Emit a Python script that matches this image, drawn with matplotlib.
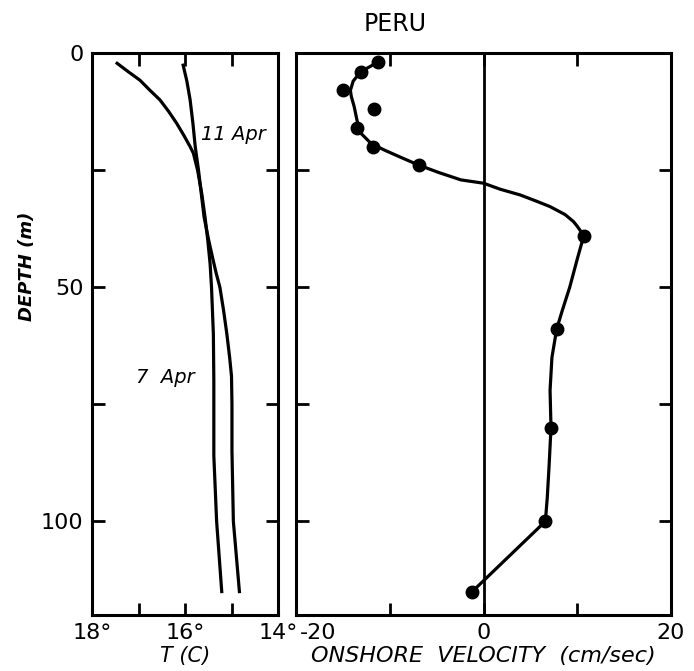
import matplotlib.pyplot as plt
import matplotlib.transforms as mtransforms

# temperature profiles (left panel)
depth_7apr = [2.2, 4, 5.8, 8, 10, 12.5, 15, 17.5, 20, 21.4, 25, 30, 35, 40, 45, 50,
              55, 60, 70, 80, 86, 100, 115]
temp_7apr = [17.46, 17.22, 16.97, 16.75, 16.54, 16.35, 16.18, 16.03, 15.89, 15.82,
             15.73, 15.64, 15.57, 15.51, 15.46, 15.43, 15.41, 15.39, 15.38, 15.38,
             15.38, 15.32, 15.21]
depth_11apr = [2.6, 6, 10, 15, 20, 25, 30, 35, 40, 44, 47, 50, 55, 60, 65, 69, 75,
               85, 100, 115]
temp_11apr = [16.04, 15.96, 15.89, 15.83, 15.78, 15.71, 15.65, 15.59, 15.49, 15.40,
              15.33, 15.25, 15.17, 15.10, 15.04, 15.00, 14.99, 14.99, 14.96, 14.83]

# onshore velocity observations (right panel)
vel_depth = [2, 4, 8, 12, 16, 20, 24, 39, 59, 80, 100, 115]
vel_obs = [-11.3, -13.1, -15.0, -11.7, -13.5, -11.8, -6.9, 10.7, 7.8, 7.2, 6.6, -1.2]

# hand-drawn smooth curve through the observations
curve_depth = [2, 4, 6, 8, 9.3, 11.4, 14.3, 17.1, 19.3, 20.7, 22.3, 23.9, 25.5, 27.1,
               27.8, 29.1, 30.3, 31.6, 32.8, 34.5, 36, 37, 39, 44, 50, 55, 59, 65,
               72, 80, 88, 95, 100, 115]
curve_vel = [-11.3, -13.1, -13.9, -14.2, -14.1, -13.8, -13.5, -13.1, -12.0, -10.6,
             -8.8, -6.95, -4.8, -2.4, 0.0, 1.8, 3.9, 5.6, 7.1, 8.7, 9.6, 10.0, 10.7,
             10.0, 9.2, 8.4, 7.8, 7.3, 7.1, 7.2, 7.0, 6.8, 6.6, -1.2]

LW = 2.3

fig = plt.figure(figsize=(6.94, 6.71), dpi=100)
ax1 = fig.add_axes([92 / 694, 1 - 615 / 671, 186 / 694, 562 / 671])
ax2 = fig.add_axes([296 / 694, 1 - 615 / 671, 375 / 694, 562 / 671])

for ax in (ax1, ax2):
    for s in ax.spines.values():
        s.set_linewidth(2.2)
    ax.set_ylim(120, 0)
    ax.tick_params(direction='in', length=9, width=2, top=True, right=True,
                   labelsize=16, pad=6)

# left panel
ax1.plot(temp_7apr, depth_7apr, 'k-', lw=LW)
ax1.plot(temp_11apr, depth_11apr, 'k-', lw=LW)
ax1.set_xlim(18, 14)
ax1.set_xticks([18, 17, 16, 15, 14])
ax1.set_xticklabels(['18°', '', '16°', '', '14°'])
ax1.set_yticks([0, 25, 50, 75, 100])
ax1.set_yticklabels(['0', '', '50', '', '100'])
ax1.set_xlabel('T (C)', fontsize=15, style='italic', labelpad=2)
ax1.set_ylabel('DEPTH (m)', fontsize=13, style='italic', fontweight='bold')
ax1.yaxis.set_label_coords(-0.30, 0.62)
ax1.text(14.97, 17.5, '11 Apr', fontsize=14, style='italic', ha='center', va='center')
ax1.text(16.42, 69.3, '7  Apr', fontsize=14, style='italic', ha='center', va='center')

# right panel
ax2.axvline(0, color='k', lw=2)
ax2.plot(curve_vel, curve_depth, 'k-', lw=LW)
ax2.plot(vel_obs, vel_depth, 'ko', ms=9)
ax2.set_xlim(-20, 20)
ax2.set_xticks([-20, -10, 0, 10, 20])
ax2.set_xticklabels(['-20', '', '0', '', '20'])
lab = ax2.get_xticklabels()[0]
lab.set_ha('left')
lab.set_transform(lab.get_transform() +
                  mtransforms.ScaledTranslation(4 / 100, 0, fig.dpi_scale_trans))
ax2.set_yticks([0, 25, 50, 75, 100])
ax2.set_yticklabels([])
ax2.set_xlabel('ONSHORE  VELOCITY  (cm/sec)', fontsize=16, style='italic', labelpad=2)

fig.text(395 / 694, 1 - 24 / 671, 'PERU', fontsize=17, ha='center', va='center')

fig.savefig('out.png', dpi=100)
